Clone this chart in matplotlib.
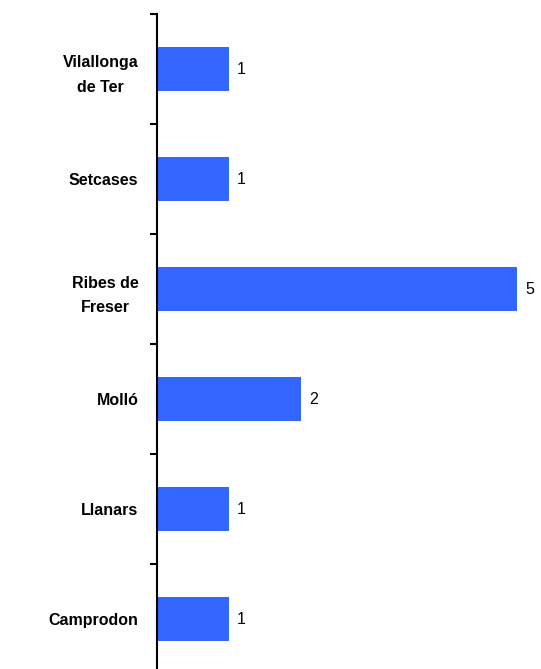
import matplotlib
matplotlib.use("Agg")
import matplotlib.pyplot as plt
from matplotlib.ticker import FixedLocator

categories = ["Camprodon", "Llanars", "Molló", "Ribes de\nFreser", "Setcases", "Vilallonga\nde Ter"]
values = [1, 1, 2, 5, 1, 1]

W, H = 541, 669
fig = plt.figure(figsize=(W / 100, H / 100), dpi=100)
left, right, top, bottom = 157, 541, 14, 674
ax = fig.add_axes([left / W, (H - bottom) / H, (right - left) / W, (bottom - top) / H])

pos = list(range(len(categories)))
ax.barh(pos, values, height=0.4, color="#3366FF", zorder=2)
ax.set_xlim(0, (right - left) / 72)
ax.set_ylim(-0.5, len(categories) - 0.5)

for s in ["top", "right", "bottom"]:
    ax.spines[s].set_visible(False)
ax.spines["left"].set_linewidth(1.5)
ax.spines["left"].set_color("black")
ax.xaxis.set_visible(False)

ax.yaxis.set_major_locator(FixedLocator(pos))
ax.set_yticklabels(categories, fontsize=11.5, fontweight="bold",
                   family=["Liberation Sans", "DejaVu Sans"],
                   multialignment="center", linespacing=1.75)
ax.tick_params(axis="y", which="major", length=0, pad=13.5)
ax.yaxis.set_minor_locator(FixedLocator([p + 0.5 for p in pos] + [-0.5]))
ax.tick_params(axis="y", which="minor", length=5, width=1.5, direction="out")

for p, v in zip(pos, values):
    ax.text(v + 8 / 72, p, str(v), va="center", ha="left", fontsize=11.5,
            family=["Liberation Sans", "DejaVu Sans"])

fig.savefig("out.png", dpi=100)
